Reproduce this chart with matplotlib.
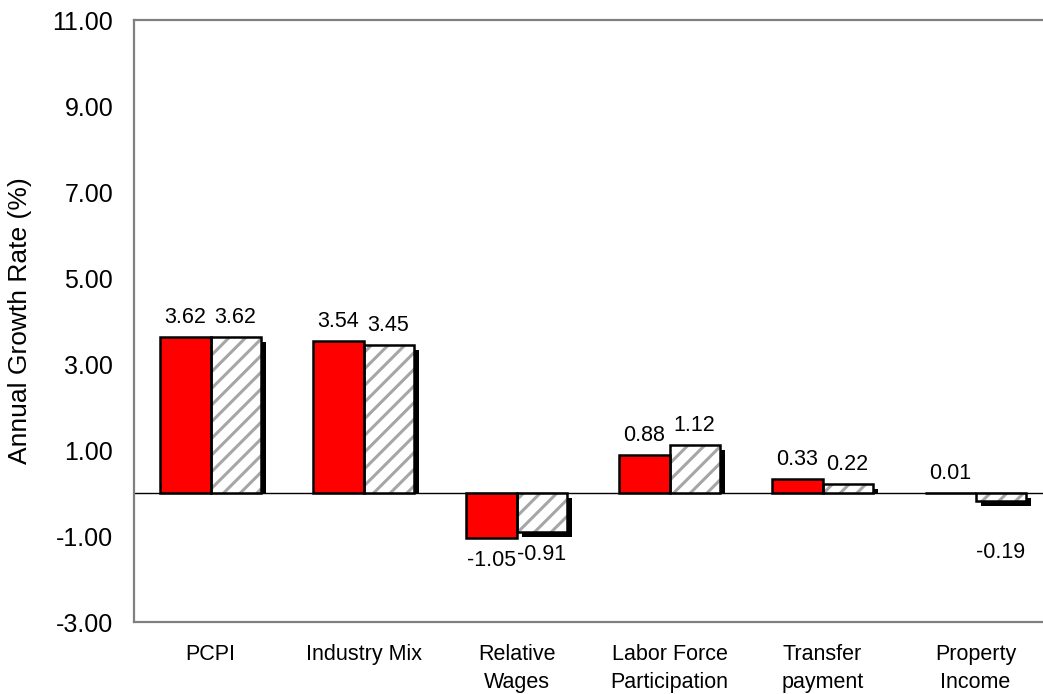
import matplotlib.pyplot as plt
import matplotlib.patheffects as pe
from matplotlib.patches import Rectangle
import numpy as np

plt.rcParams['font.family'] = ['Liberation Sans', 'DejaVu Sans']
plt.rcParams['hatch.linewidth'] = 2.2

categories = ['PCPI', 'Industry Mix', 'Relative\nWages', 'Labor Force\nParticipation',
              'Transfer\npayment', 'Property\nIncome']
series_red = [3.62, 3.54, -1.05, 0.88, 0.33, 0.01]
series_hatch = [3.62, 3.45, -0.91, 1.12, 0.22, -0.19]
yticks = [-3, -1, 1, 3, 5, 7, 9, 11]

x = np.arange(len(categories))
w = 0.327

fig = plt.figure(figsize=(10.43, 6.94), dpi=100)
ax = fig.add_axes([134 / 1043, 1 - 622 / 694, 918 / 1043, 602 / 694])
ax.set_xlim(-0.5, 5.5)
ax.set_ylim(-3, 11)

ax.axhline(0, color='black', lw=1, zorder=1)

ax.bar(x - w / 2, series_red, w, color='#ff0000', edgecolor='black', lw=1.8, zorder=3)

# hatched series: solid shadow layer, gray stripes, then black outline
shadow = [pe.SimplePatchShadow(offset=(3.6, -3.6), shadow_rgbFace='black', alpha=1.0), pe.Normal()]
above_zero = Rectangle((-0.5, 0), 6, 11, transform=ax.transData)
sb = ax.bar(x + w / 2, series_hatch, w, color='white', lw=0, zorder=1.9)
for p, v in zip(sb, series_hatch):
    p.set_path_effects(shadow)
    if v > 0:
        p.set_clip_path(above_zero)
ax.bar(x + w / 2, series_hatch, w, color='white', edgecolor='#a6a6a6', lw=0,
       hatch='//', zorder=2)
ax.bar(x + w / 2, series_hatch, w, fill=False, edgecolor='black', lw=1.8, zorder=4)

def label(xs, vals, extra=None):
    for i, (xx, v) in enumerate(zip(xs, vals)):
        off = 14 if v >= 0 else -16
        if extra and i in extra:
            off += extra[i]
        ax.annotate(f'{v:.2f}', (xx, v), xytext=(0, off), textcoords='offset points',
                    ha='center', va='center', fontsize=15.5, zorder=5)

label(x - w / 2, series_red)
label(x + w / 2, series_hatch, extra={5: -21})

ax.set_yticks(yticks)
ax.set_yticklabels([f'{t:.2f}' for t in yticks], fontsize=18)
ax.set_xticks(x)
ax.set_xticklabels(categories, fontsize=15.5, linespacing=1.45)
ax.tick_params(axis='both', length=0)
ax.tick_params(axis='y', pad=15)
ax.tick_params(axis='x', pad=16)

ax.set_ylabel('Annual Growth Rate (%)', fontsize=19)
ax.yaxis.set_label_coords(-0.111, 0.5)

for s in ['left', 'top', 'bottom']:
    ax.spines[s].set_color('#808080')
    ax.spines[s].set_linewidth(1.6)
ax.spines['right'].set_visible(False)

plt.savefig('out.png', dpi=100)
